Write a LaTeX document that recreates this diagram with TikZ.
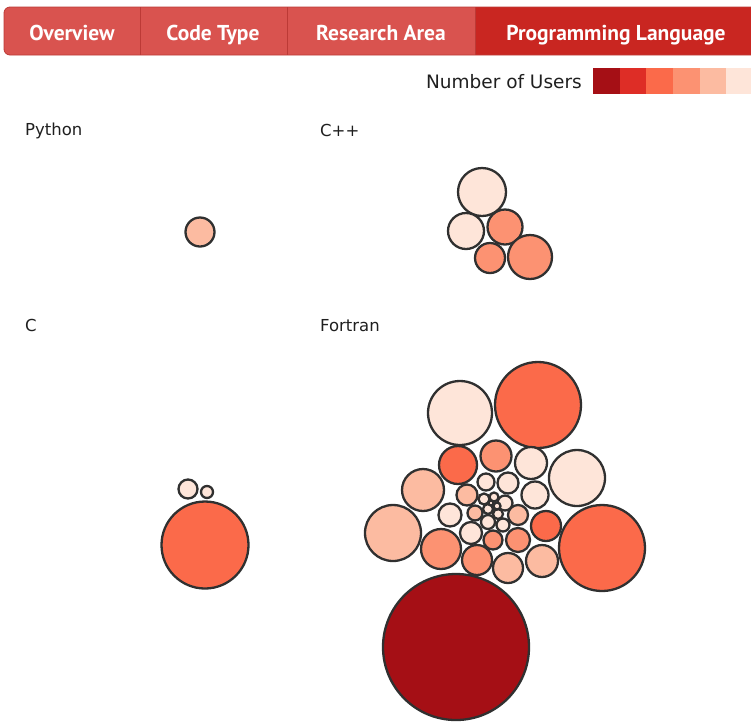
\documentclass[tikz,border=0pt]{standalone}
\usepackage{fontspec}
\setmainfont{DejaVu Sans}
\newfontfamily\tabfont{PT Sans}
\definecolor{rA}{HTML}{A50F15}
\definecolor{rB}{HTML}{DE2D26}
\definecolor{rC}{HTML}{FB6A4A}
\definecolor{rD}{HTML}{FC9272}
\definecolor{rE}{HTML}{FCBBA1}
\definecolor{rF}{HTML}{FEE5D9}
\definecolor{tabred}{RGB}{217,83,79}
\definecolor{tabact}{RGB}{201,38,33}
\definecolor{tabline}{RGB}{188,58,54}
\definecolor{ring}{RGB}{48,48,48}
\tikzset{
  bub/.style={draw=ring, line width=2.3pt},
  tabtext/.style={font=\tabfont\bfseries\fontsize{21.5}{24}\selectfont, text=white, anchor=base, inner sep=0pt},
  lab/.style={font=\fontsize{16.5}{18}\selectfont, text=black!88, anchor=base west, inner sep=0pt},
  legtext/.style={font=\fontsize{18.5}{20}\selectfont, text=black!88, anchor=base east, inner sep=0pt},
  legbox/.style={minimum width=26.7pt, minimum height=26pt, inner sep=0pt, anchor=north west}
}
\begin{document}
\begin{tikzpicture}[x=1pt,y=-1pt]
\useasboundingbox (0,0) rectangle (751,724);
% tab bar
\begin{scope}
\clip (0,0) rectangle (751,724);
\fill[tabred, rounded corners=6pt] (4,7) rectangle (770,55);
\fill[tabact] (475,7) rectangle (770,55);
\draw[tabline, line width=0.8pt, rounded corners=6pt] (4,7) rectangle (770,55);
\draw[tabline, line width=1pt] (140,7) -- (140,55);
\draw[tabline, line width=1pt] (287,7) -- (287,55);
\draw[tabline, line width=1pt] (475,7) -- (475,55);
\end{scope}
\node[tabtext] (t1) at (72,40) {Overview};
\node[tabtext] (t2) at (213,40) {Code Type};
\node[tabtext] (t3) at (381,40) {Research Area};
\node[tabtext] (t4) at (616,40) {Programming Language};
% legend
\node[legtext] (leg) at (582,88) {Number of Users};
\foreach \c [count=\i from 0] in {rA,rB,rC,rD,rE,rF}{
  \node[legbox, fill=\c] (lb\i) at (592.7+26.7*\i,68) {};
}
% labels
\node[lab] (lpy) at (25,135) {Python};
\node[lab] (lcpp) at (320,136) {C++};
\node[lab] (lc) at (25,331) {C};
\node[lab] (lfo) at (320,331) {Fortran};
% Python
\draw[bub, fill=rE] (200,232) circle (14.5);
% C++
\foreach \x/\y/\r/\c in {482/192/24/rF, 466/231/18/rF, 505/227/17.5/rD, 490/258/15/rD, 530/257/22/rD}{
  \draw[bub, fill=\c] (\x,\y) circle (\r);
}
% C
\draw[bub, fill=rC] (205,545) circle (43.5);
\draw[bub, fill=rF] (188,489) circle (9.5);
\draw[bub, fill=rF] (207,492) circle (6);
% Fortran
\foreach \x/\y/\r/\c in {
  456/647/73/rA,
  538/405/43/rC,
  460/413/32/rF,
  602/548/43/rC,
  577/478/28/rF,
  393/533/28/rE,
  423/490/21/rE,
  458/465/19/rC,
  496/456/15.5/rD,
  531/463/16/rF,
  535/495/13.5/rF,
  546/526/15/rC,
  542/561/16/rE,
  508/568/15/rE,
  477/560/15/rD,
  441/549/20/rD,
  450/515/11.5/rF,
  467/495/10.5/rE,
  486/482/8.5/rF,
  508/483/10.5/rF,
  518/515/10/rE,
  518/540/12/rD,
  493/540/9.5/rD,
  471/533/11/rF,
  475/513/7.5/rE,
  488/522/7/rF,
  503/525/6.5/rF,
  505/503/7.5/rF,
  484/499/5.5/rF,
  494/497/4.5/rF,
  488/509/5/rF,
  498/514/5/rF,
  497/506/3.5/rF,
  491/503/2.5/rF}{
  \draw[bub, fill=\c] (\x,\y) circle (\r);
}
\end{tikzpicture}
\end{document}
